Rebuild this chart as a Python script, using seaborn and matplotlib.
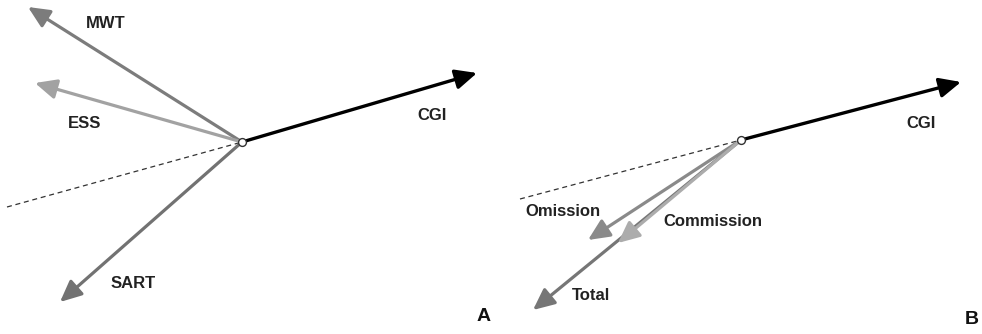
import matplotlib
matplotlib.use("Agg")
import matplotlib.pyplot as plt
import seaborn as sns
import pandas as pd

# Panel A: variable vectors relative to the common origin
a_names = ["MWT", "ESS", "SART", "CGI"]
a_x = [-2.14, -2.07, -1.82, 2.35]
a_y = [1.35, 0.59, -1.60, 0.69]
a_axis_x = [-2.35, 0.0]
a_axis_y = [-0.65, 0.0]

# Panel B: error-score vectors relative to the common origin
b_names = ["Total", "Omission", "Commission", "CGI"]
b_x = [-2.08, -1.53, -1.23, 2.20]
b_y = [-1.70, -1.00, -1.03, 0.58]
b_axis_x = [-2.21, 0.0]
b_axis_y = [-0.59, 0.0]

panel_letters = ["A", "B"]

# drawing styles
colors = {
    "MWT": "#7c7c7c", "ESS": "#a2a2a2", "SART": "#727272", "CGI": "#000000",
    "Omission": "#8a8a8a", "Commission": "#acacac", "Total": "#767676",
}
# label offsets from arrow tips, in pixels
label_offsets = {
    "A": {"CGI": (-45, -43), "MWT": (78, -17), "ESS": (50, -40), "SART": (73, 19)},
    "B": {"CGI": (-40, -41), "Omission": (-25, 29), "Commission": (95, 22), "Total": (58, 14)},
}
limits = {
    "A": ((-2.42, 2.49), (-1.92, 1.42)),
    "B": ((-2.50, 2.41), (-1.94, 1.40)),
}
letter_pos = {"A": (0.984, 0.051), "B": (0.980, 0.042)}

sns.set_theme(style="white")
plt.rcParams["font.family"] = ["Liberation Sans", "DejaVu Sans"]

fig = plt.figure(figsize=(9.82, 3.34), dpi=100)
axes = [fig.add_axes([0.0, 0.0, 0.5, 1.0]), fig.add_axes([0.5, 0.0, 0.5, 1.0])]

panels = [
    ("A", a_names, a_x, a_y, a_axis_x, a_axis_y),
    ("B", b_names, b_x, b_y, b_axis_x, b_axis_y),
]

for ax, (letter, names, xs, ys, axx, axy) in zip(axes, panels):
    (x0, x1), (y0, y1) = limits[letter]
    ax.set_xlim(x0, x1)
    ax.set_ylim(y0, y1)
    ax.set_axis_off()

    # dashed back-projection of the CGI axis
    sns.lineplot(x=axx, y=axy, ax=ax, color="#333333", lw=0.9,
                 linestyle=(0, (4, 3)), sort=False, zorder=1)

    df = pd.DataFrame({"name": names, "x": xs, "y": ys})
    for i, row in df.iterrows():
        name = row["name"]
        is_cgi = name == "CGI"
        ax.annotate(
            "", xy=(row["x"], row["y"]), xytext=(0, 0),
            arrowprops=dict(arrowstyle="-|>,head_length=0.65,head_width=0.3",
                            mutation_scale=20, lw=2.4 if is_cgi else 2.3,
                            color=colors[name], shrinkA=0, shrinkB=0),
            zorder=2 + i * 0.1,
        )
        dx, dy = label_offsets[letter][name]
        ax.annotate(name, xy=(row["x"], row["y"]), xytext=(dx, dy),
                    textcoords="offset pixels", ha="center", va="center",
                    fontsize=12, fontweight="bold", color="#222222")

    sns.scatterplot(x=[0.0], y=[0.0], ax=ax, s=32, marker="o",
                    facecolor="white", edgecolor="#333333", linewidth=1.0,
                    zorder=5)

    ax.text(*letter_pos[letter], letter, transform=ax.transAxes,
            ha="center", va="center", fontsize=14, fontweight="bold",
            color="#111111")

fig.savefig("out.png", dpi=100)
